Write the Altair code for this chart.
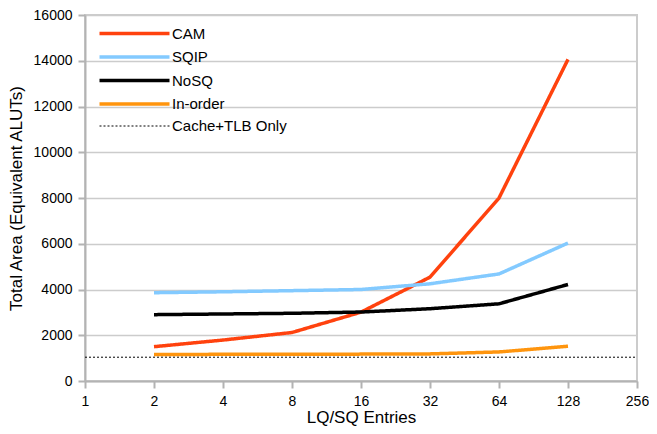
import altair as alt
import pandas as pd

entries = [2, 4, 8, 16, 32, 64, 128]
cam = [1500, 1790, 2120, 3010, 4540, 8000, 14060]
sqip = [3860, 3900, 3950, 4000, 4250, 4680, 6030]
nosq = [2900, 2930, 2960, 3015, 3160, 3375, 4220]
inorder = [1160, 1165, 1170, 1175, 1185, 1270, 1520]
cache_x = [1, 256]
cache_y = [1040, 1040]

series_names = ["CAM", "SQIP", "NoSQ", "In-order", "Cache+TLB Only"]
colors = ["#ff420e", "#83caff", "#000000", "#ff950e", "#000000"]
dashes = [[1, 0], [1, 0], [1, 0], [1, 0], [2, 2]]
widths = [3.5, 3.5, 3.5, 3.5, 1]
x_ticks = [1, 2, 4, 8, 16, 32, 64, 128, 256]

rows = []
for name, vals in zip(series_names[:4], [cam, sqip, nosq, inorder]):
    for x, y in zip(entries, vals):
        rows.append({"series": name, "x": x, "y": y})
for x, y in zip(cache_x, cache_y):
    rows.append({"series": series_names[4], "x": x, "y": y})
df = pd.DataFrame(rows)

chart = alt.Chart(df).mark_line().encode(
    x=alt.X("x:Q", scale=alt.Scale(type="log", base=2, domain=[1, 256], nice=False),
            axis=alt.Axis(values=x_ticks, title="LQ/SQ Entries", grid=False, format="d",
                          labelFlush=False)),
    y=alt.Y("y:Q", scale=alt.Scale(domain=[0, 16000], nice=False),
            axis=alt.Axis(values=list(range(0, 16001, 2000)), format="d",
                          title="Total Area (Equivalent ALUTs)", labelFlush=False)),
    color=alt.Color("series:N", scale=alt.Scale(domain=series_names, range=colors), title=None),
    strokeDash=alt.StrokeDash("series:N", scale=alt.Scale(domain=series_names, range=dashes), title=None),
    strokeWidth=alt.StrokeWidth("series:N", scale=alt.Scale(type="ordinal", domain=series_names, range=widths), title=None),
    order=alt.Order("x:Q"),
).properties(
    width=552, height=366,
    autosize=alt.AutoSizeParams(type="none"),
    padding={"left": 77, "top": 7, "right": 12, "bottom": 45},
).configure_view(
    stroke="#cccccc", strokeWidth=2
).configure_axis(
    labelFont="Liberation Sans", titleFont="Liberation Sans",
    labelFontSize=14, titleFontSize=17, titleFontWeight="normal",
    labelColor="#000000", titleColor="#000000",
    domainColor="#b3b3b3", domainWidth=2,
    tickColor="#b3b3b3", tickWidth=2, tickSize=7,
    gridColor="#cccccc", gridWidth=1.5,
    labelPadding=6,
).configure_axisX(
    titlePadding=1,
).configure_axisY(
    titlePadding=8,
).configure_legend(
    orient="none", legendX=40, legendY=9, padding=0,
    symbolType="M-4.6667,0H4.6667", symbolSize=225,
    labelFont="Liberation Sans", labelFontSize=15, labelColor="#000000",
    rowPadding=5.5, labelOffset=28,
)

chart.save("out.html", embed_options={"renderer": "svg", "actions": False})
